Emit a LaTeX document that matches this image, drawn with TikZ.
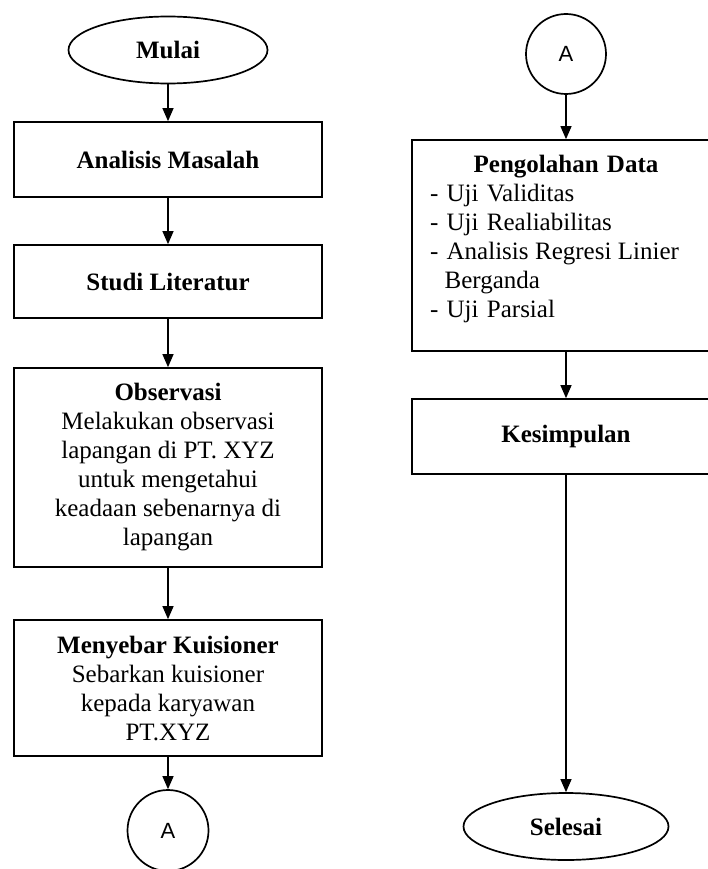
\documentclass[tikz,border=0pt]{standalone}
\usepackage{fontspec}
\setmainfont{Liberation Serif}
\newfontfamily\arialfont{Liberation Sans}
\usetikzlibrary{shapes.geometric,arrows.meta}
\begin{document}
\begin{tikzpicture}[x=1pt,y=-1pt,
  box/.style={draw,line width=1.7pt,rectangle,minimum width=308pt,inner sep=0pt,align=center,font=\fontsize{25}{29}\selectfont},
  term/.style={draw,line width=1.7pt,ellipse,inner sep=0pt,font=\fontsize{25}{29}\selectfont\bfseries},
  conn/.style={draw,line width=1.7pt,circle,inner sep=0pt,minimum size=80pt,font=\arialfont\fontsize{22}{26}\selectfont},
  flow/.style={line width=1.2pt,-{Triangle[width=11pt,length=13pt]}}]
\useasboundingbox (0,0) rectangle (708,869);
% left column
\node[term,minimum width=199pt,minimum height=67pt] (mulai) at (168,50) {Mulai};
\node[box,minimum height=75pt] (am) at (168,159.5) {\textbf{Analisis Masalah}};
\node[box,minimum height=73pt] (sl) at (168,281.5) {\textbf{Studi Literatur}};
\node[box,minimum height=199pt] (obs) at (168,467.5) {\textbf{Observasi}\\Melakukan observasi\\lapangan di PT. XYZ\\untuk mengetahui\\keadaan sebenarnya di\\lapangan};
\node[box,minimum height=136pt] (kui) at (168,688) {\textbf{Menyebar Kuisioner}\\Sebarkan kuisioner\\kepada karyawan\\PT.XYZ};
\node[conn,minimum size=81pt] (ca) at (168,830.5) {A};
% right column
\node[conn] (cb) at (566,54) {A};
\node[box,minimum height=211pt] (pd) at (566,245.5) {};
\node[anchor=north,inner sep=0pt,text width=272pt,align=left,font=\fontsize{25}{29}\selectfont] (pdtext) at (566,155)
  {\makebox[\linewidth][c]{\textbf{Pengolahan Data}}\\
   - Uji Validitas\\
   - Uji Realiabilitas\\
   \makebox[249pt][l]{- Analisis\hfill Regresi\hfill Linier}\\
   \hspace*{14.6pt}Berganda\\
   - Uji Parsial};
\node[box,minimum height=75pt] (kes) at (566,436.5) {\textbf{Kesimpulan}};
\node[term,minimum width=205pt,minimum height=67pt] (sel) at (566,826.5) {Selesai};
% connectors
\draw[flow] (mulai) -- (am);
\draw[flow] (am) -- (sl);
\draw[flow] (sl) -- (obs);
\draw[flow] (obs) -- (kui);
\draw[flow] (kui) -- (ca);
\draw[flow] (cb) -- (pd);
\draw[flow] (pd) -- (kes);
\draw[flow] (kes) -- (sel);
\end{tikzpicture}
\end{document}
